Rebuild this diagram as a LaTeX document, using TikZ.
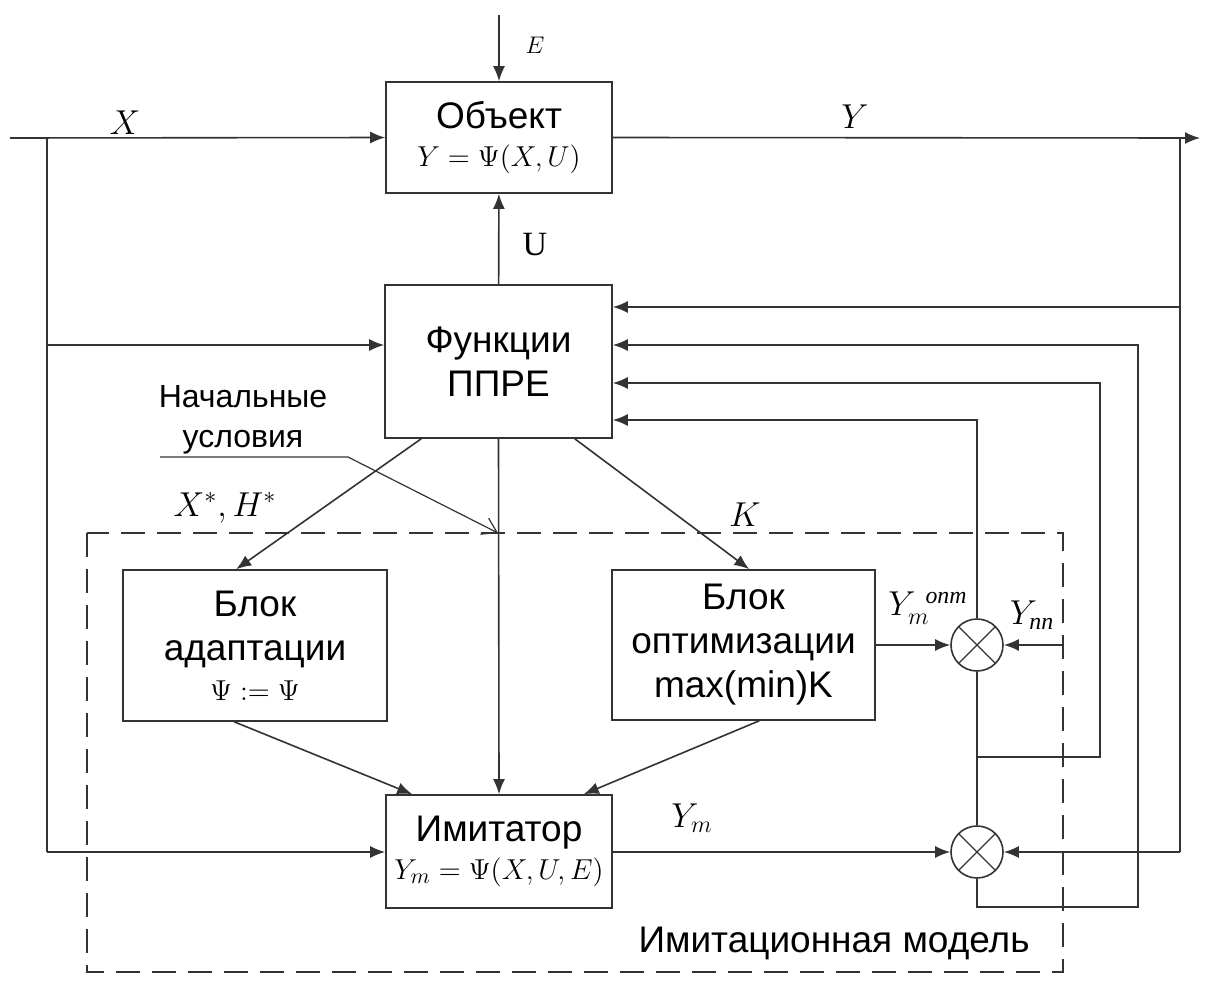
\documentclass[tikz,border=0pt]{standalone}
\usepackage{amsmath}
\usepackage{fontspec}
\setmainfont{Liberation Sans}
\newfontfamily\serfont{Liberation Serif}
\usetikzlibrary{arrows.meta,calc}

\begin{document}
\begin{tikzpicture}[x=0.5pt, y=-0.5pt, >={Latex[length=7.5pt,width=6pt]}, line width=0.8pt, draw=black!80,
  blockbox/.style={draw=black!80, align=center, inner sep=0pt, font=\fontsize{18.5}{22}\selectfont},
  mult/.style={draw=black!80, circle, minimum size=26pt, inner sep=0pt,
    path picture={\draw[line width=0.6pt, black!80]
      (path picture bounding box.south west) -- (path picture bounding box.north east)
      (path picture bounding box.north west) -- (path picture bounding box.south east);}},
  lbl/.style={font=\fontsize{17}{19}\selectfont}]
  \useasboundingbox (0,0) rectangle (1214,985);

  % 1. блоки
  \node[blockbox, minimum width=113pt, minimum height=55.5pt] (obj) at (499,137.5)
    {Объект\\[-3pt]{\fontsize{15}{18}\selectfont $Y=\Psi(X,U)$}};
  \node[blockbox, minimum width=113.5pt, minimum height=76.5pt] (ppre) at (498.5,361.5)
    {Функции\\ППРЕ};
  \node[blockbox, minimum width=132pt, minimum height=75.5pt] (adapt) at (255,645.5)
    {Блок\\адаптации\\[-2pt]{\fontsize{15}{18}\selectfont $\Psi:=\Psi$}};
  \node[blockbox, minimum width=131.5pt, minimum height=75pt] (opt) at (743.5,645)
    {Блок\\оптимизации\\max(min)K};
  \node[blockbox, minimum width=113pt, minimum height=56.5pt] (imit) at (499,851.5)
    {Имитатор\\[-3pt]{\fontsize{15}{18}\selectfont $Y_m=\Psi(X,U,E)$}};
  \node[mult] (m1) at (977,645) {};
  \node[mult] (m2) at (977,852) {};

  % 2. имитационная модель
  \draw[dash pattern=on 12pt off 6pt] (87,533) rectangle (1063,972);
  \node[font=\fontsize{18.5}{22}\selectfont] (im) at (834,943) {Имитационная модель};

  % 3. точки
  \coordinate (ein) at (499,15);
  \coordinate (xin) at (10,138);
  \coordinate (yout) at (1200,138);
  \coordinate (lt) at (47,138);
  \coordinate (lm) at (47,345);
  \coordinate (lb) at (47,852);
  \coordinate (rt) at (1180,138);
  \coordinate (rm) at (1180,307);
  \coordinate (rb) at (1180,852);
  \coordinate (in1) at (ppre.east |- 0,307);
  \coordinate (in2) at (ppre.east |- 0,345);
  \coordinate (in3) at (ppre.east |- 0,383);
  \coordinate (in4) at (ppre.east |- 0,420);
  \coordinate (c2) at (1138,907);
  \coordinate (c2u) at (1138,345);
  \coordinate (c3) at (1100,383);
  \coordinate (j1) at (977,757);
  \coordinate (ypp) at (1062,645);
  \coordinate (nu1) at (160,457);
  \coordinate (nu2) at (348,457);
  \coordinate (nu3) at (498,533);

  % 4. связи
  \draw[->] (ein) -- (obj);
  \draw[->] (xin) -- (obj.west);
  \draw[->] (obj.east) -- (yout);
  \draw (lt) -- (lb);
  \draw[->] (lm) -- (ppre.west |- lm);
  \draw[->] (lb) -- (imit.west |- lb);
  \draw (rt) -- (rb);
  \draw[->] (rm) -- (in1);
  \draw[->] (rb) -- (m2.east);
  \draw[->] (ppre) -- (obj);
  \draw[->] (ppre.south) -- (imit.north);
  \draw[->] ($(ppre.south west)+(37,0)$) -- ($(adapt.north west)+(114,0)$);
  \draw[->] ($(ppre.south east)+(-38,0)$) -- ($(opt.north west)+(138,0)$);
  \draw[->] ($(adapt.south west)+(112,0)$) -- ($(imit.north west)+(27,0)$);
  \draw[->] ($(opt.south west)+(148,0)$) -- ($(imit.north east)+(-29,0)$);
  \draw[->] (opt.east) -- (m1.west);
  \draw[->] (ypp) -- (m1.east);
  \draw[->] (imit.east |- m2) -- (m2.west);
  \draw[->] (m1.north) |- (in4);
  \draw (m1.south) -- (m2.north);
  \draw[->] (j1) -| (c3) -- (in3);
  \draw[->] (m2.south) |- (c2) -- (c2u) -- (in2);
  \draw[line width=0.6pt, -{Straight Barb[length=7pt,width=9pt]}] (nu1) -- (nu2) -- (nu3);

  % 5. подписи
  \node[font=\fontsize{13}{15}\selectfont] (le) at (535,45) {$E$};
  \node[lbl] (lx) at (125,123) {$X$};
  \node[lbl] (ly) at (855,117) {$Y$};
  \node[lbl] (lu) at (535,245) {\serfont U};
  \node[font=\fontsize{16}{20}\selectfont, align=center] (nu) at (243,420) {Начальные\\условия};
  \node[lbl] (lxh) at (225,508) {$X^*,H^*$};
  \node[lbl] (lk) at (745,515) {$K$};
  \node[lbl, inner sep=1pt] (lopt) at (928,608) {$Y_m^{\hspace{5pt}\text{\serfont\itshape опт}}$};
  \node[lbl] (lpp) at (1032,615) {$Y_{\text{\serfont\itshape пп}}$};
  \node[lbl] (lym) at (692,818) {$Y_m$};
\end{tikzpicture}
\end{document}
